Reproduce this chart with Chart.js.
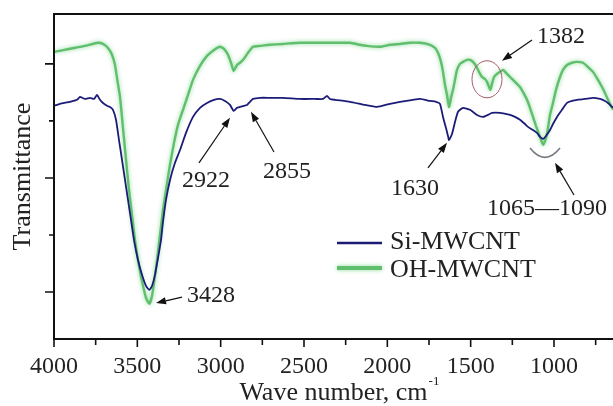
<!DOCTYPE html>
<html>
<head>
<meta charset="utf-8">
<script src="https://cdn.jsdelivr.net/npm/chart.js@4.4.1/dist/chart.umd.min.js"></script>
<style>
  html, body { margin: 0; padding: 0; background: #fff; }
</style>
</head>
<body>
<canvas id="ftir" width="613" height="406"></canvas>
<script>
// FTIR spectra (arbitrary transmittance units)
const siWavenumbers = [4000, 3964, 3904, 3862, 3844, 3814, 3784, 3760, 3742, 3724, 3706, 3682, 3664, 3646,
  3628, 3610, 3592, 3574, 3556, 3538, 3520, 3496, 3472, 3448, 3428, 3412, 3394, 3376, 3358, 3346, 3328,
  3304, 3274, 3244, 3208, 3166, 3124, 3082, 3040, 3004, 2974, 2944, 2922, 2902, 2884, 2860, 2842, 2824,
  2806, 2764, 2704, 2626, 2524, 2434, 2386, 2362, 2344, 2314, 2224, 2134, 2062, 1984, 1924, 1846, 1804,
  1744, 1708, 1684, 1666, 1648, 1636, 1630, 1612, 1594, 1576, 1546, 1504, 1462, 1426, 1396, 1372, 1324,
  1264, 1234, 1204, 1174, 1156, 1126, 1102, 1084, 1065, 1048, 1024, 1006, 982, 952, 922, 892, 862, 814,
  766, 724, 694, 676, 658, 646];
const siValues = [85.3, 86.0, 86.7, 87.4, 88.4, 87.7, 88.1, 87.7, 89.1, 87.4, 86.3, 85.3, 84.9, 83.9,
  80.4, 73.3, 66.3, 59.3, 52.3, 45.3, 38.2, 31.2, 26.0, 22.1, 20.7, 22.1, 26.0, 31.9, 38.2, 44.6, 52.3,
  59.3, 65.3, 69.8, 75.8, 81.4, 84.6, 86.3, 87.4, 87.7, 87.0, 85.6, 83.5, 84.6, 84.9, 85.3, 85.6, 86.7,
  87.7, 88.1, 88.1, 88.1, 87.7, 87.7, 87.7, 88.8, 87.7, 87.4, 86.7, 85.6, 84.9, 86.0, 86.7, 87.4, 87.7,
  87.0, 86.7, 86.0, 81.4, 77.5, 74.7, 73.3, 75.4, 79.6, 83.2, 84.6, 83.9, 82.1, 81.4, 82.1, 82.8, 82.8,
  82.1, 81.4, 80.4, 78.9, 77.9, 76.8, 75.8, 74.4, 73.7, 74.7, 76.8, 78.9, 81.4, 83.9, 86.3, 87.0, 87.4, 87.7,
  88.1, 87.7, 87.0, 86.3, 85.3, 84.6];

const ohWavenumbers = [4000, 3904, 3814, 3736, 3706, 3676, 3652, 3634, 3622, 3604, 3586, 3568, 3550, 3532,
  3514, 3496, 3478, 3460, 3448, 3428, 3412, 3400, 3382, 3364, 3346, 3328, 3304, 3280, 3256, 3226, 3196,
  3166, 3124, 3082, 3040, 3004, 2980, 2956, 2938, 2922, 2902, 2884, 2860, 2836, 2806, 2764, 2704, 2626,
  2524, 2422, 2314, 2224, 2164, 2122, 2044, 1984, 1924, 1864, 1804, 1744, 1714, 1696, 1678, 1666, 1654,
  1642, 1630, 1618, 1606, 1594, 1582, 1564, 1546, 1522, 1504, 1486, 1468, 1450, 1432, 1414, 1402, 1382,
  1372, 1360, 1342, 1324, 1306, 1282, 1264, 1234, 1204, 1180, 1162, 1144, 1126, 1108, 1084, 1065, 1048,
  1036, 1024, 1006, 988, 964, 946, 922, 892, 862, 826, 796, 766, 736, 712, 694, 676, 658, 646];
const ohValues = [104.2, 105.3, 106.3, 107.4, 107.0, 105.6, 103.2, 99.6, 95.1, 88.4, 77.5, 66.3, 55.8, 47.0,
  38.2, 31.2, 25.3, 20.7, 17.9, 15.8, 18.6, 23.2, 31.2, 40.0, 48.8, 55.8, 64.6, 72.3, 78.6, 83.9, 89.1,
  94.4, 99.3, 102.8, 104.9, 106.0, 105.3, 103.2, 100.4, 97.5, 99.6, 100.4, 101.8, 103.9, 106.0, 106.3, 106.7, 107.0,
  107.4, 107.4, 107.4, 107.4, 106.7, 106.3, 106.0, 106.7, 107.0, 107.4, 107.4, 106.7, 105.6, 103.9, 100.7, 97.2, 92.6,
  89.1, 84.9, 88.1, 90.9, 94.4, 97.9, 100.0, 100.7, 101.4, 101.4, 100.7, 99.3, 97.2, 95.4, 94.7, 93.7, 90.9,
  93.0, 95.4, 96.5, 97.2, 97.9, 96.5, 95.4, 93.7, 91.9, 89.5, 87.4, 84.6, 81.4, 78.2, 74.4, 71.6, 74.0,
  77.5, 82.1, 86.3, 90.9, 95.4, 97.9, 99.6, 100.4, 100.7, 100.4, 98.9, 97.2, 94.4, 91.9, 89.8, 87.4, 85.3, 83.9];

const seriesNames = ['Si-MWCNT', 'OH-MWCNT'];
const xTickValues = [4000, 3500, 3000, 2500, 2000, 1500, 1000];
const xMinorTicks = [3750, 3250, 2750, 2250, 1750, 1250, 750];
const yMajorTicks = [100, 60, 20];
const yMinorTicks = [80, 40];

// peak callouts: label anchor (left, baseline) and arrow tail -> head, in data units
const callouts = [
  { text: '3428', at: [3202, 16.5], from: [3232, 18.2], to: [3388, 16.1] },
  { text: '2922', at: [3232, 56.8], from: [3130, 65.3], to: [2944, 81.1] },
  { text: '2855', at: [2746, 60.0], from: [2680, 69.1], to: [2818, 83.2] },
  { text: '1630', at: [1978, 54.0], from: [1756, 63.5], to: [1642, 72.3] },
  { text: '1382', at: [1102, 107.4], from: [1132, 108.4], to: [1312, 101.1] },
  { text: '1065\u20141090', at: [1402, 47.0], from: [880, 54.0], to: [994, 65.3] }
];

const SERIF = "'Liberation Serif', 'Times New Roman', serif";
const BLUE = '#1c1c78';
const GREEN = '#5fbf6d';

const toPoints = (xs, ys) => xs.map((x, i) => ({ x: x, y: ys[i] }));

const glowPlugin = {
  id: 'glow',
  beforeDatasetDraw(chart, args) {
    if (args.index !== 1) return;
    chart.ctx.save();
    chart.ctx.shadowColor = 'rgba(120, 210, 135, 0.85)';
    chart.ctx.shadowBlur = 4;
  },
  afterDatasetDraw(chart, args) {
    if (args.index === 1) chart.ctx.restore();
  }
};

function arrow(ctx, x1, y1, x2, y2) {
  const ang = Math.atan2(y2 - y1, x2 - x1), len = 10, half = 3.6;
  const bx = x2 - len * Math.cos(ang), by = y2 - len * Math.sin(ang);
  ctx.beginPath();
  ctx.moveTo(x1, y1);
  ctx.lineTo(bx, by);
  ctx.stroke();
  ctx.beginPath();
  ctx.moveTo(x2, y2);
  ctx.lineTo(bx - half * Math.sin(ang), by + half * Math.cos(ang));
  ctx.lineTo(bx + half * Math.sin(ang), by - half * Math.cos(ang));
  ctx.closePath();
  ctx.fill();
}

const decorPlugin = {
  id: 'decor',
  afterDraw(chart) {
    const { ctx, chartArea: a } = chart;
    const xs = chart.scales.x, ys = chart.scales.y;
    ctx.save();

    // frame
    ctx.strokeStyle = '#111';
    ctx.lineWidth = 2;
    ctx.beginPath();
    ctx.moveTo(chart.width, a.top);
    ctx.lineTo(a.left, a.top);
    ctx.lineTo(a.left, a.bottom);
    ctx.lineTo(chart.width, a.bottom);
    ctx.stroke();

    // ticks (outward)
    ctx.lineWidth = 1.6;
    ctx.beginPath();
    xTickValues.forEach(v => { const p = xs.getPixelForValue(v); ctx.moveTo(p, a.bottom); ctx.lineTo(p, a.bottom + 8); });
    xMinorTicks.forEach(v => { const p = xs.getPixelForValue(v); ctx.moveTo(p, a.bottom); ctx.lineTo(p, a.bottom + 6); });
    yMajorTicks.forEach(v => { const p = ys.getPixelForValue(v); ctx.moveTo(a.left, p); ctx.lineTo(a.left - 9, p); });
    yMinorTicks.forEach(v => { const p = ys.getPixelForValue(v); ctx.moveTo(a.left, p); ctx.lineTo(a.left - 5, p); });
    ctx.stroke();

    // superscript on axis title
    ctx.font = '26px ' + SERIF;
    const w = ctx.measureText(chart.options.scales.x.title.text).width;
    ctx.font = '13px ' + SERIF;
    ctx.fillStyle = '#222';
    ctx.textBaseline = 'alphabetic';
    ctx.fillText('-1', (a.left + a.right) / 2 + w / 2 + 1, 385);

    // highlight marks
    ctx.strokeStyle = '#a65a66';
    ctx.lineWidth = 1;
    const cx = xs.getPixelForValue(1402), cy = ys.getPixelForValue(94.6);
    const rx = Math.abs(xs.getPixelForValue(1312) - xs.getPixelForValue(1492)) / 2;
    const ry = Math.abs(ys.getPixelForValue(88.1) - ys.getPixelForValue(101.1)) / 2;
    ctx.beginPath();
    ctx.ellipse(cx, cy, rx, ry, 0, 0, Math.PI * 2);
    ctx.stroke();

    ctx.strokeStyle = '#7a7a80';
    ctx.lineWidth = 1.6;
    const ax1 = xs.getPixelForValue(1144), ax2 = xs.getPixelForValue(964);
    const atop = ys.getPixelForValue(70.5), abot = ys.getPixelForValue(67.2);
    ctx.beginPath();
    ctx.moveTo(ax1, atop);
    ctx.quadraticCurveTo((ax1 + ax2) / 2, abot + (abot - atop), ax2, atop);
    ctx.stroke();

    // callouts
    ctx.strokeStyle = '#111';
    ctx.fillStyle = '#111';
    ctx.lineWidth = 1.2;
    callouts.forEach(c => {
      arrow(ctx, xs.getPixelForValue(c.from[0]), ys.getPixelForValue(c.from[1]),
        xs.getPixelForValue(c.to[0]), ys.getPixelForValue(c.to[1]));
    });
    ctx.fillStyle = '#222';
    ctx.font = '24px ' + SERIF;
    ctx.textBaseline = 'alphabetic';
    ctx.textAlign = 'left';
    callouts.forEach(c => {
      ctx.fillText(c.text, xs.getPixelForValue(c.at[0]), ys.getPixelForValue(c.at[1]));
    });

    // legend
    const lx = 337, lw = 45, rows = [243, 268];
    ctx.font = '26px ' + SERIF;
    chart.data.datasets.forEach((ds, i) => {
      ctx.save();
      if (i === 1) { ctx.shadowColor = 'rgba(120, 210, 135, 0.85)'; ctx.shadowBlur = 4; }
      ctx.strokeStyle = ds.borderColor;
      ctx.lineWidth = i === 1 ? 4 : 2.4;
      ctx.beginPath();
      ctx.moveTo(lx, rows[i]);
      ctx.lineTo(lx + lw, rows[i]);
      ctx.stroke();
      ctx.restore();
      ctx.fillStyle = '#222';
      ctx.textBaseline = 'middle';
      ctx.fillText(ds.label, lx + lw + 8, rows[i] + (i === 1 ? 2 : -1));
    });
    ctx.restore();
  }
};

new Chart(document.getElementById('ftir'), {
  type: 'line',
  data: {
    datasets: [
      { label: seriesNames[0], data: toPoints(siWavenumbers, siValues), borderColor: BLUE, borderWidth: 1.8,
        pointRadius: 0, tension: 0.15 },
      { label: seriesNames[1], data: toPoints(ohWavenumbers, ohValues), borderColor: GREEN, borderWidth: 2.4,
        pointRadius: 0, tension: 0.15 }
    ]
  },
  options: {
    responsive: false,
    animation: false,
    layout: { padding: { top: 14, right: 0, left: 0, bottom: 0 } },
    plugins: { legend: { display: false }, tooltip: { enabled: false } },
    scales: {
      x: {
        type: 'linear',
        reverse: true,
        min: 646,
        max: 4000,
        afterBuildTicks: scale => { scale.ticks = xTickValues.map(v => ({ value: v })); },
        afterFit: scale => { scale.height = 67; },
        grid: { display: false, drawTicks: false },
        border: { display: false },
        ticks: { padding: 13, maxRotation: 0, color: '#222', font: { family: SERIF, size: 24 },
          callback: v => String(v) },
        title: { display: true, text: 'Wave number, cm', color: '#222', padding: { top: 0, bottom: 0 },
          font: { family: SERIF, size: 26, lineHeight: 1 } }
      },
      y: {
        min: 3.5,
        max: 117.5,
        afterFit: scale => { scale.width = 54; },
        grid: { display: false, drawTicks: false },
        border: { display: false },
        ticks: { display: false },
        title: { display: true, text: 'Transmittance', color: '#222', padding: { top: 10, bottom: 0 },
          font: { family: SERIF, size: 26, lineHeight: 1 } }
      }
    }
  },
  plugins: [glowPlugin, decorPlugin]
});
</script>
</body>
</html>
